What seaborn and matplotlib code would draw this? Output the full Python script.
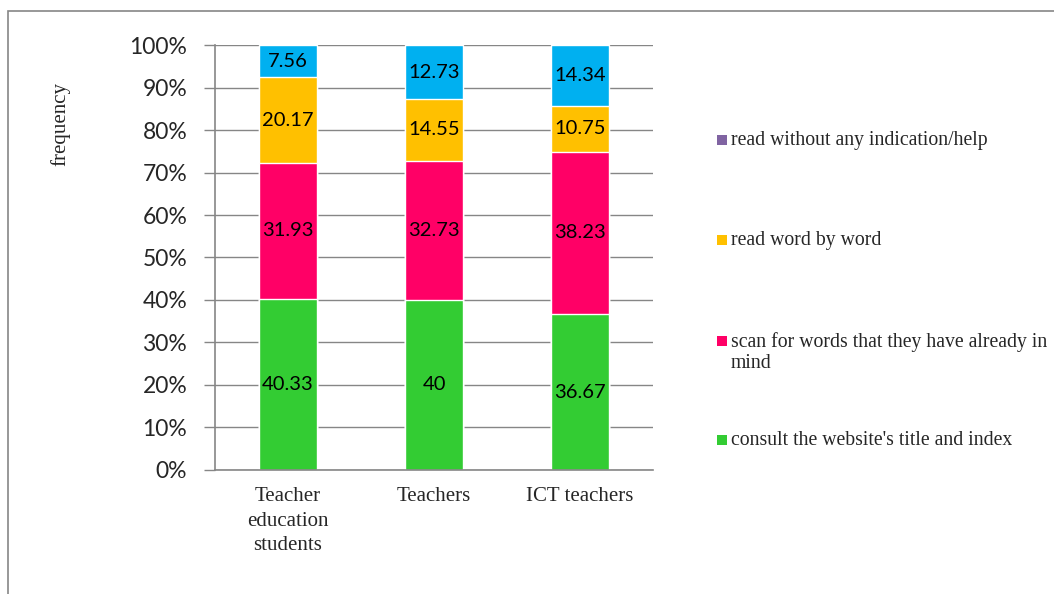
import matplotlib
matplotlib.use("Agg")
import matplotlib.pyplot as plt
from matplotlib.patches import Rectangle
import numpy as np
import pandas as pd
import seaborn as sns

# Data (percent of answers per group)
groups = ["Teacher\neducation\nstudents", "Teachers", "ICT teachers"]
consult_title = [40.33, 40, 36.67]
scan_words = [31.93, 32.73, 38.23]
word_by_word = [20.17, 14.55, 10.75]
other = [7.56, 12.73, 14.34]

series_names = ["consult the website's title and index",
                "scan for words that they have already in\nmind",
                "read word by word",
                "other"]
series_colors = ["#33CC33", "#FF0066", "#FFC000", "#00B0F0"]

legend_names = ["read without any indication/help",
                "read word by word",
                "scan for words that they have already in\nmind",
                "consult the website's title and index"]
legend_colors = ["#8064A2", "#FFC000", "#FF0066", "#33CC33"]

sns.set_style("white")
plt.rcParams['font.family'] = ['Lato', 'DejaVu Sans']

df = pd.DataFrame({"group": groups,
                   series_names[0]: consult_title,
                   series_names[1]: scan_words,
                   series_names[2]: word_by_word,
                   series_names[3]: other})

fig = plt.figure(figsize=(10.54, 5.94), dpi=100)
ax = fig.add_axes([0.204, 0.2088, 0.4156, 0.7154])

# gridlines behind the bars
ax.set_axisbelow(True)
ax.yaxis.grid(True, color="#868686", linewidth=1)

# stacked bars: draw cumulative totals from the top segment down
cum = df[series_names].cumsum(axis=1)
for name, col in reversed(list(zip(series_names, series_colors))):
    sns.barplot(x=df["group"], y=cum[name], color=col, width=0.4,
                saturation=1, ax=ax, zorder=2)

# value labels in the middle of each segment
bottoms = np.zeros(len(groups))
for name in series_names:
    vals = df[name].to_numpy()
    for i, v in enumerate(vals):
        ax.text(i, bottoms[i] + v / 2, f"{v:g}", ha="center", va="center",
                fontsize=14.5, color="black", zorder=3)
    bottoms += vals

ax.set_ylim(0, 100)
ax.set_xlim(-0.5, 2.5)
ax.set_yticks(np.arange(0, 101, 10))
ax.set_yticklabels([f"{t}%" for t in range(0, 101, 10)], fontsize=16.5)
ax.set_xticks(range(len(groups)))
ax.set_xticklabels(groups, fontsize=15, family=["Liberation Serif"],
                   linespacing=1.42)
ax.set_xticks([-0.5, 0.5, 1.5, 2.5], minor=True)
ax.tick_params(axis="x", which="major", length=0, pad=12)
ax.tick_params(axis="x", which="minor", length=6, color="#868686", width=1)
ax.tick_params(axis="y", length=8, color="#868686", width=1, pad=12,
               left=True)
ax.set_xlabel("")
ax.set_ylabel("")

for side in ["top", "right"]:
    ax.spines[side].set_visible(False)
for side in ["left", "bottom"]:
    ax.spines[side].set_color("#868686")
    ax.spines[side].set_linewidth(1.2)

fig.text(60 / 1054, 1 - 124 / 594, "frequency", rotation=90, ha="center",
         va="center", fontsize=15, family=["Liberation Serif"])

# legend entries (square lines up with the first text line)
legend_y = [140, 240, 341, 440]
for name, col, y in zip(legend_names, legend_colors, legend_y):
    fig.patches.append(Rectangle((717 / 1054, 1 - (y + 5) / 594), 10 / 1054,
                                 10 / 594, transform=fig.transFigure,
                                 facecolor=col, edgecolor="none"))
    extra = 22 * name.count("\n")
    fig.text(731 / 1054, 1 - (y + 5 + extra) / 594, name, ha="left",
             va="baseline", fontsize=14.2, family=["Liberation Serif"],
             linespacing=1.15)

# outer chart frame
fig.patches.append(Rectangle((8 / 1054, -0.1), 1.2, 1.1 - 11 / 594,
                             transform=fig.transFigure, fill=False,
                             edgecolor="#868686", linewidth=1.2))

fig.savefig("out.png", dpi=100)
